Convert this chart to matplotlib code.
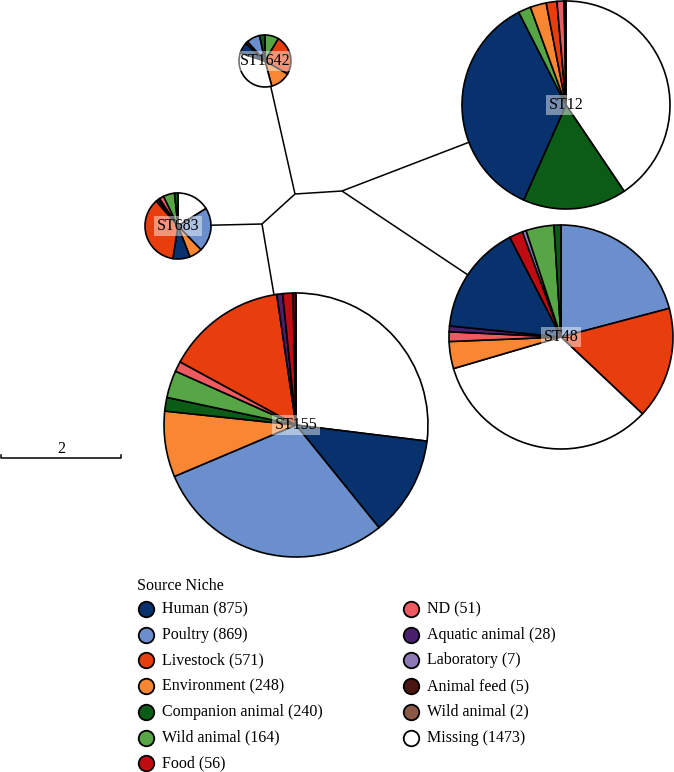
import matplotlib
matplotlib.use('Agg')
import matplotlib.pyplot as plt

# legend categories and total counts
niches = ['Human', 'Poultry', 'Livestock', 'Environment', 'Companion animal',
          'Wild animal', 'Food', 'ND', 'Aquatic animal', 'Laboratory',
          'Animal feed', 'Wild animal ', 'Missing']
niche_counts = [875, 869, 571, 248, 240, 164, 56, 51, 28, 7, 5, 2, 1473]

colors = {
    'Human': '#08326E', 'Poultry': '#6B8FCC', 'Livestock': '#E83D0C',
    'Environment': '#F88632', 'Companion animal': '#0B5C17',
    'Wild animal': '#57A646', 'Food': '#C00B12', 'ND': '#EE5A5F',
    'Aquatic animal': '#4A1F6D', 'Laboratory': '#8B78B5',
    'Animal feed': '#4A1611', 'Wild animal ': '#8A5948', 'Missing': '#FFFFFF',
}

# pie slices per ST, clockwise from top (shares)
st1642_niches = ['Wild animal', 'Livestock', 'Environment', 'Missing', 'Human', 'Food', 'Poultry', 'Companion animal']
st1642_values = [31, 89, 45, 123, 25, 5, 30, 12]

st683_niches = ['Missing', 'Poultry', 'Environment', 'Human', 'Livestock', 'Food', 'Aquatic animal', 'ND', 'Wild animal', 'Companion animal']
st683_values = [58, 78, 23, 30, 130, 4, 3, 8, 20, 6]

st12_niches = ['Missing', 'Companion animal', 'Human', 'Wild animal', 'Environment', 'Livestock', 'ND', 'Animal feed']
st12_values = [146, 58, 129, 7, 9, 6, 4, 1]

st48_niches = ['Poultry', 'Livestock', 'Missing', 'Environment', 'ND', 'Aquatic animal', 'Human', 'Food', 'Laboratory', 'Wild animal', 'Companion animal']
st48_values = [75, 58, 120, 14, 5, 3, 57, 7, 2, 14.5, 3.6]

st155_niches = ['Missing', 'Human', 'Poultry', 'Environment', 'Companion animal', 'Wild animal', 'ND', 'Livestock', 'Aquatic animal', 'Food', 'Animal feed']
st155_values = [97, 44, 106, 29, 6, 12, 4.5, 53, 2.6, 4.5, 1.3]

# layout (pixel coords, y down)
W, H = 674, 772
pies = [
    ('ST1642', st1642_niches, st1642_values, (265, 61), 26),
    ('ST683', st683_niches, st683_values, (178, 226), 33),
    ('ST12', st12_niches, st12_values, (566, 105), 104),
    ('ST48', st48_niches, st48_values, (561, 337), 112),
    ('ST155', st155_niches, st155_values, (296, 425), 132),
]
nodes = {'A': (295, 194), 'B': (342, 191), 'C': (262, 224)}
edges = [('A', 'B'), ('A', 'C'), ('A', 'ST1642'), ('B', 'ST12'), ('B', 'ST48'),
         ('C', 'ST683'), ('C', 'ST155')]

font = 'Liberation Serif'
plt.rcParams['font.family'] = [font, 'DejaVu Serif']

fig = plt.figure(figsize=(W / 100, H / 100), dpi=100)
ax = fig.add_axes([0, 0, 1, 1])

pos = dict(nodes)
for name, _, _, c, _ in pies:
    pos[name] = c

for a, b in edges:
    (x1, y1), (x2, y2) = pos[a], pos[b]
    ax.plot([x1, x2], [H - y1, H - y2], color='black', lw=1.1, zorder=1,
            solid_capstyle='butt')

for name, cats, vals, (cx, cy), r in pies:
    ax.pie(vals, colors=[colors[c] for c in cats], startangle=90,
           counterclock=False, center=(cx, H - cy), radius=r,
           wedgeprops=dict(edgecolor='black', linewidth=1.2), frame=True)
    ax.text(cx, H - cy, name, ha='center', va='center', fontsize=11.5,
            zorder=10,
            bbox=dict(boxstyle='square,pad=0.15', fc='white', ec='none', alpha=0.45))

# scale bar
ax.plot([1, 1, 121, 121], [H - 455, H - 458, H - 458, H - 455], color='black', lw=1.1)
ax.text(61, H - 449, '2', ha='center', va='center', fontsize=11.5)

# legend
ax.text(137, H - 586, 'Source Niche', ha='left', va='center', fontsize=11.5)
row_gap = 25.7
for i, (n, cnt) in enumerate(zip(niches, niche_counts)):
    col, row = (0, i) if i < 7 else (1, i - 7)
    mx = 146 + col * 265
    my = H - (609 + row * row_gap)
    ax.scatter([mx], [my], s=125, color=colors[n], edgecolors='black',
               linewidths=1.3, zorder=5)
    ax.text(mx + 16, my, f'{n.strip()} ({cnt})', ha='left', va='center', fontsize=11.5)

ax.set_xlim(0, W)
ax.set_ylim(0, H)
ax.set_aspect('equal')
ax.axis('off')

fig.savefig('out.png', dpi=100)
